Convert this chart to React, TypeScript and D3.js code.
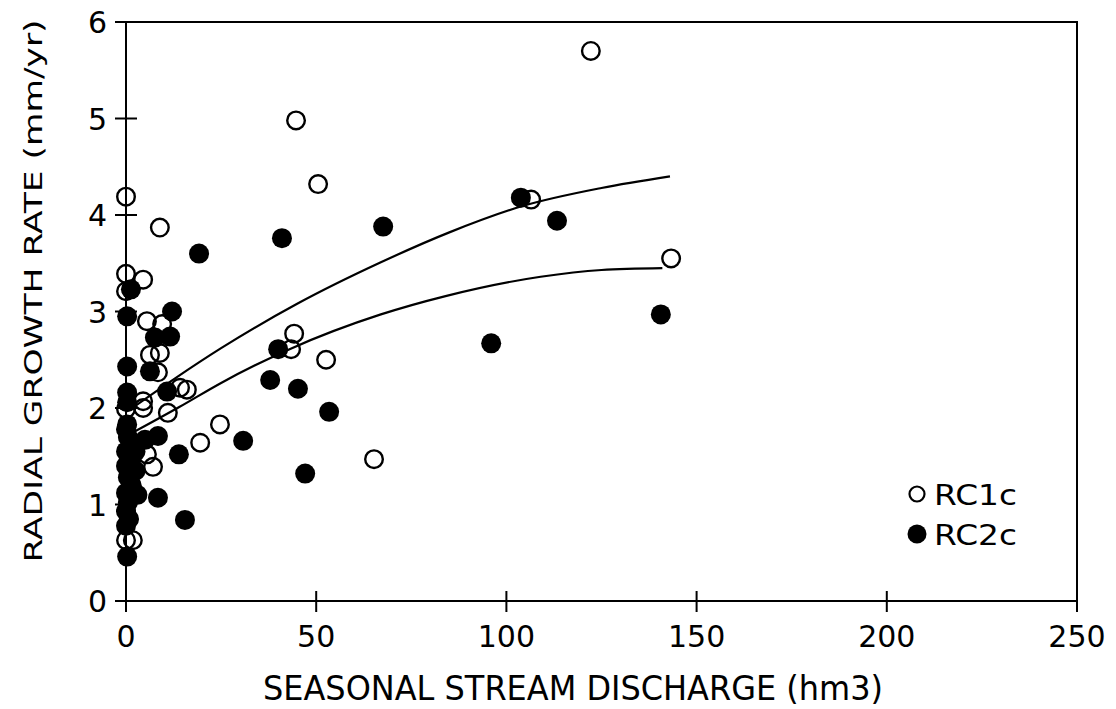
import React from "react";
import * as d3 from "d3";

// RC1c (open circles): [discharge hm3, growth mm/yr]
const rc1cX = [0, 8.9, 122.2, 44.7, 50.5, 106.5, 143.3, 0, 4.5, 0, 5.5, 9.5, 6.3, 8.9, 8.4, 14.2, 16, 0, 4.5, 4.5, 11, 24.7, 19.5, 5.5, 7.1, 65.2, 52.6, 44.2, 43.4, 0, 1.8];
const rc1cY = [4.19, 3.87, 5.7, 4.98, 4.32, 4.16, 3.55, 3.39, 3.33, 3.21, 2.9, 2.87, 2.55, 2.57, 2.37, 2.21, 2.19, 1.99, 2.07, 2.0, 1.95, 1.83, 1.64, 1.52, 1.39, 1.47, 2.5, 2.77, 2.61, 0.63, 0.63];

// RC2c (filled circles)
const rc2cX = [1.3, 19.2, 41, 67.6, 103.8, 113.3, 140.6, 96, 40, 37.9, 45.2, 53.4, 30.8, 47.1, 13.9, 15.5, 8.4, 0.3, 12.1, 7.6, 11.6, 0.3, 6.3, 10.8, 0.3, 0.3, 0.3, 8.4, 0, 0.5, 2, 0, 1.5, 0, 2.5, 0.5, 1.5, 0, 3, 0.5, 0, 0.8, 0, 0.3, 5, 2.5];
const rc2cY = [3.23, 3.6, 3.76, 3.88, 4.18, 3.94, 2.97, 2.67, 2.61, 2.29, 2.2, 1.96, 1.66, 1.32, 1.52, 0.84, 1.07, 2.95, 3.0, 2.73, 2.74, 2.43, 2.38, 2.17, 2.16, 2.06, 1.83, 1.71, 1.78, 1.7, 1.62, 1.55, 1.48, 1.4, 1.35, 1.28, 1.2, 1.12, 1.1, 1.02, 0.93, 0.85, 0.78, 0.46, 1.67, 1.55];

// Fitted curves
const upperCurveX = [2, 13, 25, 45, 67, 85, 104, 125, 143];
const upperCurveY = [2.01, 2.31, 2.62, 3.08, 3.51, 3.82, 4.09, 4.28, 4.4];
const lowerCurveX = [2, 14, 25, 43, 67, 84, 109, 125, 141];
const lowerCurveY = [1.75, 2.01, 2.26, 2.61, 2.97, 3.16, 3.36, 3.43, 3.45];

const xTicks = [0, 50, 100, 150, 200, 250];
const yTicks = [0, 1, 2, 3, 4, 5, 6];
const legendLabels = ["RC1c", "RC2c"];

export default function App() {
  const x = d3.scaleLinear().domain([0, 250]).range([126, 1077]);
  const y = d3.scaleLinear().domain([0, 6]).range([601, 22]);
  const font = "DejaVu Sans, sans-serif";

  const line = d3
    .line<[number, number]>()
    .x((d) => x(d[0]))
    .y((d) => y(d[1]))
    .curve(d3.curveMonotoneX);

  const upper = upperCurveX.map((v, i) => [v, upperCurveY[i]] as [number, number]);
  const lower = lowerCurveX.map((v, i) => [v, lowerCurveY[i]] as [number, number]);

  return (
    <svg
      width={1116}
      height={709}
      style={{ position: "absolute", left: 0, top: 0, background: "#fff" }}
    >
      <rect x={0} y={0} width={1116} height={709} fill="#fff" />
      {/* frame */}
      <rect
        x={x(0)}
        y={y(6)}
        width={x(250) - x(0)}
        height={y(0) - y(6)}
        fill="none"
        stroke="#000"
        strokeWidth={2}
      />
      {/* x ticks */}
      {xTicks.map((t) => (
        <g key={"xt" + t}>
          <line x1={x(t)} x2={x(t)} y1={y(0) - 10} y2={y(0) + 11} stroke="#000" strokeWidth={2} />
          <text
            x={x(t)}
            y={647}
            textAnchor="middle"
            fontFamily={font}
            fontSize={30}
            fill="#000"
          >
            {t}
          </text>
        </g>
      ))}
      {/* y ticks */}
      {yTicks.map((t) => (
        <g key={"yt" + t}>
          <line x1={x(0) - 11} x2={x(0) + 11} y1={y(t)} y2={y(t)} stroke="#000" strokeWidth={2} />
          <text
            x={107}
            y={y(t) + 11}
            textAnchor="end"
            fontFamily={font}
            fontSize={30}
            fill="#000"
          >
            {t}
          </text>
        </g>
      ))}
      {/* axis titles */}
      <text
        x={573}
        y={700}
        textAnchor="middle"
        fontFamily={font}
        fontSize={33}
        textLength={620}
        lengthAdjust="spacingAndGlyphs"
        fill="#000"
      >
        SEASONAL STREAM DISCHARGE (hm3)
      </text>
      <text
        transform="translate(42,291) rotate(-90)"
        textAnchor="middle"
        fontFamily={font}
        fontSize={25}
        textLength={543}
        lengthAdjust="spacingAndGlyphs"
        fill="#000"
      >
        RADIAL GROWTH RATE (mm/yr)
      </text>
      {/* curves */}
      <path d={line(upper) || ""} fill="none" stroke="#000" strokeWidth={2.2} />
      <path d={line(lower) || ""} fill="none" stroke="#000" strokeWidth={2.2} />
      {/* open circles */}
      {rc1cX.map((v, i) => (
        <circle
          key={"o" + i}
          cx={x(v)}
          cy={y(rc1cY[i])}
          r={8.8}
          fill="none"
          stroke="#000"
          strokeWidth={2.4}
        />
      ))}
      {/* filled circles */}
      {rc2cX.map((v, i) => (
        <circle key={"f" + i} cx={x(v)} cy={y(rc2cY[i])} r={10} fill="#000" />
      ))}
      {/* legend */}
      <circle cx={917} cy={494} r={7.5} fill="none" stroke="#000" strokeWidth={2.2} />
      <circle cx={917} cy={534} r={9.5} fill="#000" />
      <text x={934} y={505} fontFamily={font} fontSize={28} fill="#000" textLength={83} lengthAdjust="spacingAndGlyphs">
        {legendLabels[0]}
      </text>
      <text x={934} y={545} fontFamily={font} fontSize={28} fill="#000" textLength={83} lengthAdjust="spacingAndGlyphs">
        {legendLabels[1]}
      </text>
    </svg>
  );
}
